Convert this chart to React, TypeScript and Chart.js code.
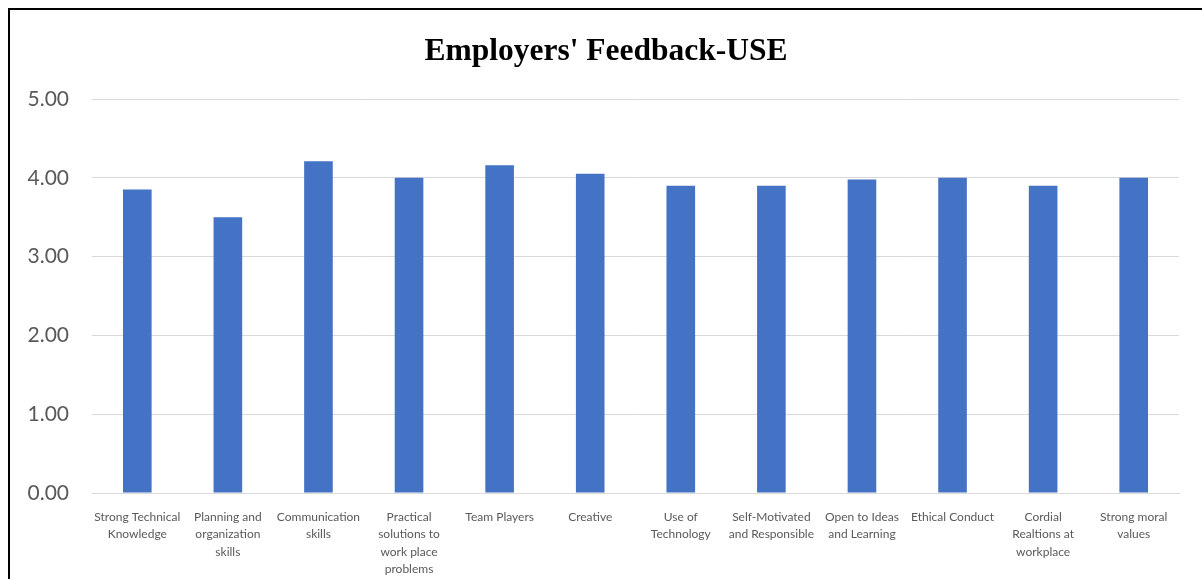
import React, { useEffect, useRef } from "react";
import { Chart, registerables } from "chart.js";

Chart.register(...registerables);

const categories: string[][] = [
  ["Strong Technical", "Knowledge"],
  ["Planning and", "organization", "skills"],
  ["Communication", "skills"],
  ["Practical", "solutions to", "work place", "problems"],
  ["Team Players"],
  ["Creative"],
  ["Use of", "Technology"],
  ["Self-Motivated", "and Responsible"],
  ["Open to Ideas", "and Learning"],
  ["Ethical Conduct"],
  ["Cordial", "Realtions at", "workplace"],
  ["Strong moral", "values"],
];

const scores: number[] = [3.85, 3.5, 4.21, 4.0, 4.16, 4.05, 3.9, 3.9, 3.98, 4.0, 3.9, 4.0];

const yTicks: number[] = [0, 1, 2, 3, 4, 5];

const titleText = "Employers' Feedback-USE";

// centre the title on the whole canvas rather than on the padded area
const centreTitle = {
  id: "centreTitle",
  afterLayout(chart: any) {
    const tb = chart.titleBlock;
    if (tb) {
      const w = tb.right - tb.left;
      tb.left = (chart.width - w) / 2;
      tb.right = tb.left + w;
    }
  },
};

export default function App() {
  const ref = useRef<HTMLCanvasElement | null>(null);

  useEffect(() => {
    document.body.style.overflow = "hidden";
    if (!ref.current) return;
    const chart = new Chart(ref.current, {
      type: "bar",
      data: {
        labels: categories,
        datasets: [
          {
            data: scores,
            backgroundColor: "#4472C4",
            borderWidth: 0,
            barPercentage: 0.316,
            categoryPercentage: 1,
          },
        ],
      },
      plugins: [centreTitle],
      options: {
        animation: false,
        responsive: false,
        devicePixelRatio: 1,
        layout: { padding: { left: 0, right: 23, top: 0, bottom: 0 } },
        plugins: {
          legend: { display: false },
          tooltip: { enabled: false },
          title: {
            display: true,
            text: titleText,
            color: "#000000",
            font: { family: "'Liberation Serif', 'Times New Roman', serif", size: 31.5, weight: "bold", lineHeight: 1.2 },
            padding: { top: 22.5, bottom: 28.7 },
          },
        },
        scales: {
          x: {
            grid: { display: false, drawTicks: false },
            border: { display: true, color: "#d9d9d9", width: 1 },
            ticks: {
              color: "#595959",
              padding: 15,
              maxRotation: 0,
              minRotation: 0,
              autoSkip: false,
              font: { family: "Lato, 'Open Sans', sans-serif", size: 12, lineHeight: "17.5px" },
            },
            afterFit: (s: any) => {
              s.height = 86;
            },
          },
          y: {
            min: 0,
            max: 5,
            afterBuildTicks: (s: any) => {
              s.ticks = yTicks.map((v) => ({ value: v }));
            },
            grid: { color: "#d9d9d9", lineWidth: 1, drawTicks: false },
            border: { display: false },
            ticks: {
              color: "#595959",
              padding: 23,
              font: { family: "Lato, 'Open Sans', sans-serif", size: 21 },
              callback: (v: any) => Number(v).toFixed(2),
            },
            afterFit: (s: any) => {
              s.width = 82;
            },
          },
        },
      },
    });
    return () => chart.destroy();
  }, []);

  return (
    <div
      style={{
        position: "fixed",
        left: 8,
        top: 8,
        width: 1194,
        height: 571,
        borderLeft: "2px solid #000",
        borderTop: "2px solid #000",
        background: "#fff",
      }}
    >
      <canvas ref={ref} width={1192} height={569} style={{ display: "block" }} />
    </div>
  );
}
